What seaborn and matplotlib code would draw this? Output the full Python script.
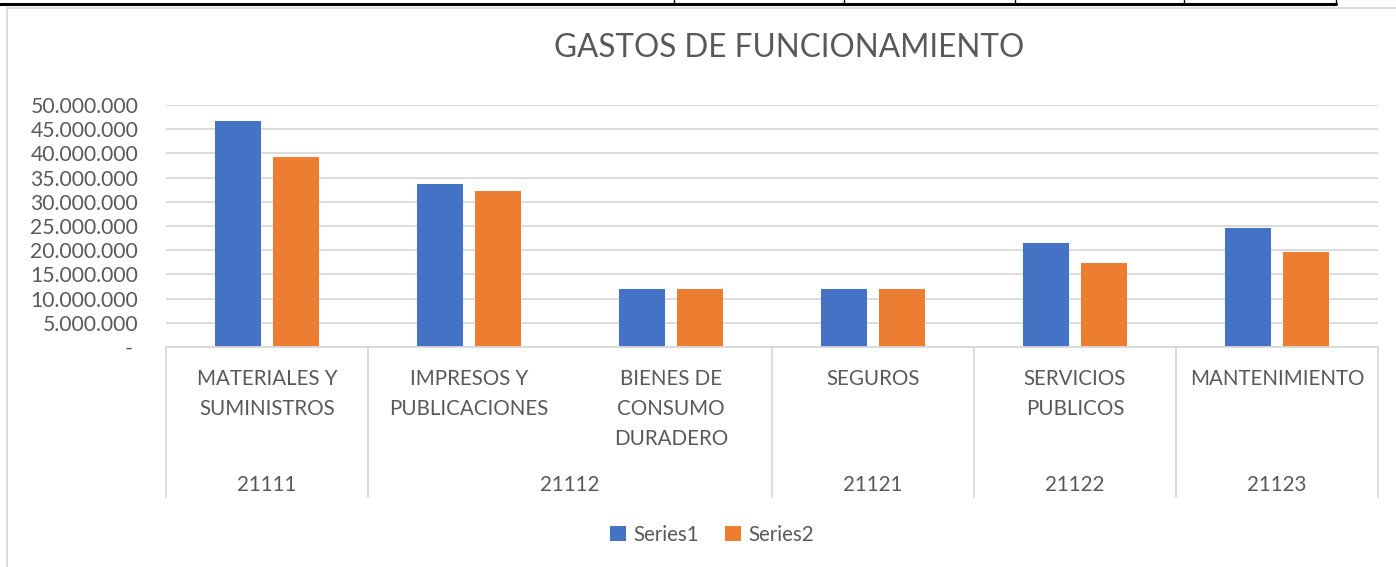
import matplotlib
matplotlib.use("Agg")
import matplotlib.pyplot as plt
import seaborn as sns
import pandas as pd
from matplotlib.lines import Line2D
from matplotlib.patches import Patch
from matplotlib.ticker import FuncFormatter

# ---- data ----
categories = ["MATERIALES Y\nSUMINISTROS", "IMPRESOS Y\nPUBLICACIONES", "BIENES DE\nCONSUMO\nDURADERO",
              "SEGUROS", "SERVICIOS\nPUBLICOS", "MANTENIMIENTO"]
groups = ["21111", "21112", "21121", "21122", "21123"]
group_spans = [(0, 0), (1, 2), (3, 3), (4, 4), (5, 5)]
series1 = [46600000, 33700000, 12000000, 12000000, 21400000, 24600000]
series2 = [39300000, 32300000, 12000000, 12000000, 17300000, 19700000]
series_names = ["Series1", "Series2"]
title = "GASTOS DE FUNCIONAMIENTO"

df = pd.DataFrame({
    "cat": categories * 2,
    "value": series1 + series2,
    "series": [series_names[0]] * len(categories) + [series_names[1]] * len(categories),
})

sns.set_theme(style="white")
plt.rcParams["font.family"] = ["Lato", "DejaVu Sans"]
TXT = "#595959"
GRID = "#D9D9D9"
colors = ["#4472C4", "#ED7D31"]
FS = 14.8

fig = plt.figure(figsize=(13.96, 5.67), dpi=100)
W, H = 1396, 567
ax = fig.add_axes([166 / W, 1 - 347 / H, (1378 - 166) / W, (347 - 105) / H])

sns.barplot(data=df, x="cat", y="value", hue="series", order=categories,
            palette=colors, width=0.574, gap=0.19, ax=ax, legend=False,
            saturation=1, edgecolor="none")

ax.set_xlim(-0.5, len(categories) - 0.5)
ax.set_ylim(0, 50000000)
ax.set_yticks(range(0, 50000001, 5000000))

def fmt(v, pos):
    if v == 0:
        return "- "
    return f"{int(v):,}".replace(",", ".")

ax.yaxis.set_major_formatter(FuncFormatter(fmt))
ax.tick_params(axis="y", length=0, pad=20, labelsize=15.2, labelcolor=TXT)
ax.set_xticks([])
ax.set_xlabel("")
ax.set_ylabel("")
ax.grid(axis="y", color=GRID, linewidth=1.3)
ax.set_axisbelow(True)
for s in ["top", "right", "left"]:
    ax.spines[s].set_visible(False)
ax.spines["bottom"].set_color(GRID)
ax.spines["bottom"].set_linewidth(1.3)

# multi-level category axis
depth = (497 - 347) / (347 - 105)
trans = ax.get_xaxis_transform()
bounds = [-0.5] + [e + 0.5 for (_, e) in group_spans]
for b in bounds:
    ax.add_line(Line2D([b, b], [0, -depth], transform=trans, color=GRID,
                       linewidth=1.3, clip_on=False))
px = 1 / (347 - 105)
for i, c in enumerate(categories):
    ax.text(i, -(369 - 347) * px, c, transform=trans, ha="center", va="top",
            fontsize=FS, color=TXT, linespacing=1.62)
for g, (s, e) in zip(groups, group_spans):
    ax.text((s + e) / 2, -(485 - 347) * px, g, transform=trans, ha="center",
            va="center", fontsize=FS, color=TXT)

fig.text(789 / W, 1 - 48 / H, title, ha="center", va="center", fontsize=22.7, color=TXT)

handles = [Patch(facecolor=colors[0], edgecolor="none"), Patch(facecolor=colors[1], edgecolor="none")]
fig.legend(handles, series_names, loc="center", bbox_to_anchor=(712 / W, 1 - 535 / H),
           ncol=2, frameon=False, fontsize=FS, labelcolor=TXT, handlelength=0.75,
           handleheight=0.75, handletextpad=0.35, columnspacing=1.3)

# spreadsheet border remnants and chart frame
fig.add_artist(Line2D([0, 1336 / W], [1 - 4 / H, 1 - 4 / H], color="black", linewidth=2.2))
for xv in [674, 844, 1015, 1184, 1336]:
    fig.add_artist(Line2D([xv / W, xv / W], [1, 1 - 4 / H], color="black", linewidth=1))
fig.add_artist(Line2D([7 / W, 1], [1 - 8 / H, 1 - 8 / H], color="#D9D9D9", linewidth=1.3))
fig.add_artist(Line2D([7 / W, 7 / W], [1 - 8 / H, 0], color="#D9D9D9", linewidth=1.3))

fig.savefig("out.png", dpi=100)
